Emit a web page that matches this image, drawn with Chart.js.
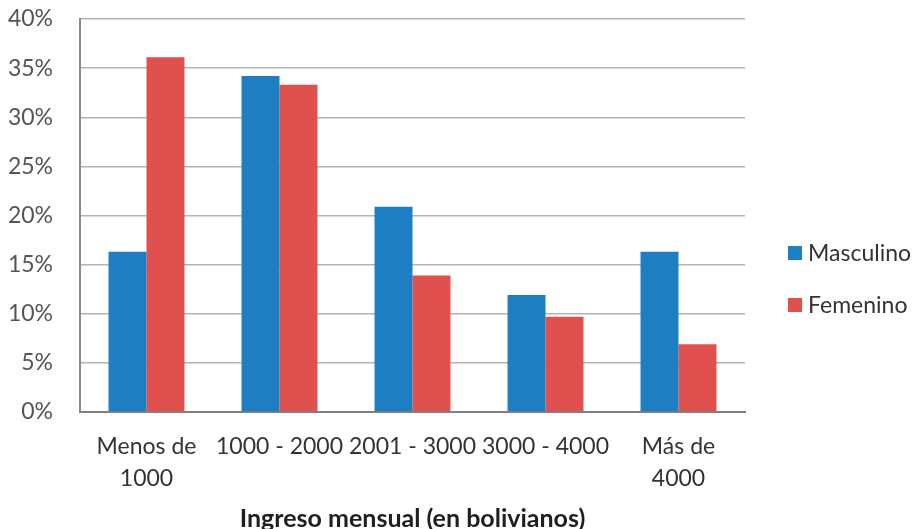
<!DOCTYPE html>
<html>
<head>
<meta charset="utf-8">
<script src="https://cdn.jsdelivr.net/npm/chart.js@4/dist/chart.umd.min.js"></script>
<style>
  html, body { margin: 0; padding: 0; background: #ffffff; overflow: hidden; }
  #wrap { width: 920px; height: 529px; position: relative; }
</style>
</head>
<body>
<div id="wrap"><canvas id="c" width="920" height="529"></canvas></div>
<script>
// Income brackets (monthly, bolivianos)
const categories = [['Menos de', '1000'], '1000 - 2000', '2001 - 3000', '3000 - 4000', ['Más de', '4000']];
// Share of each group in every bracket (%)
const masculino = [16.3, 34.2, 20.9, 11.9, 16.3];
const femenino = [36.1, 33.3, 13.9, 9.7, 6.9];
const seriesNames = ['Masculino', 'Femenino'];
const yTicks = [0, 5, 10, 15, 20, 25, 30, 35, 40];

const FONT = 'Lato, "Open Sans", "DejaVu Sans", sans-serif';
const BLUE = '#1e7ec2';
const RED = '#df504e';

// Legend drawn to the right of the plot, squares followed by names
const sideLegend = {
  id: 'sideLegend',
  afterDraw(chart) {
    const ctx = chart.ctx;
    const area = chart.chartArea;
    const x0 = area.right + 43;
    const yStart = 253;
    const gap = 52;
    ctx.save();
    ctx.font = '23px ' + FONT;
    ctx.textBaseline = 'middle';
    ctx.textAlign = 'left';
    chart.data.datasets.forEach((ds, i) => {
      const y = yStart + i * gap;
      ctx.fillStyle = ds.backgroundColor;
      ctx.fillRect(x0, y - 7, 14, 14);
      ctx.fillStyle = '#333333';
      ctx.fillText(ds.label, x0 + 20, y + 1);
    });
    ctx.restore();
  }
};

new Chart(document.getElementById('c'), {
  type: 'bar',
  data: {
    labels: categories,
    datasets: [
      { label: seriesNames[0], data: masculino, backgroundColor: BLUE },
      { label: seriesNames[1], data: femenino, backgroundColor: RED }
    ]
  },
  options: {
    responsive: false,
    animation: false,
    devicePixelRatio: 1,
    layout: { padding: { top: 19, right: 175, left: 0, bottom: 0 } },
    datasets: { bar: { categoryPercentage: 0.571, barPercentage: 1.0 } },
    plugins: {
      legend: { display: false },
      tooltip: { enabled: false }
    },
    scales: {
      x: {
        grid: { display: false, drawTicks: false },
        border: { display: true, color: '#808080', width: 2 },
        ticks: {
          color: '#333333',
          font: { family: FONT, size: 23, lineHeight: 1.42 },
          padding: 18,
          maxRotation: 0,
          autoSkip: false
        },
        title: {
          display: true,
          text: 'Ingreso mensual (en bolivianos)',
          color: '#1f1f1f',
          font: { family: FONT, size: 25, weight: 'bold', lineHeight: 0.8 },
          padding: { top: 8, bottom: 0 }
        },
        afterFit(scale) {
          scale.height = 117;
          scale.paddingLeft = 0;
          scale.paddingRight = 0;
        }
      },
      y: {
        min: 0,
        max: 40,
        afterBuildTicks(scale) { scale.ticks = yTicks.map(v => ({ value: v })); },
        grid: { color: '#b4b4b4', lineWidth: 1.5, drawTicks: false },
        border: { display: true, color: '#8a8a8a', width: 2 },
        ticks: {
          color: '#555555',
          font: { family: FONT, size: 23 },
          padding: 27,
          callback: v => v + '%'
        },
        afterFit(scale) {
          scale.width = 80;
          scale.paddingTop = 0;
          scale.paddingBottom = 0;
        }
      }
    }
  },
  plugins: [sideLegend]
});
</script>
</body>
</html>
